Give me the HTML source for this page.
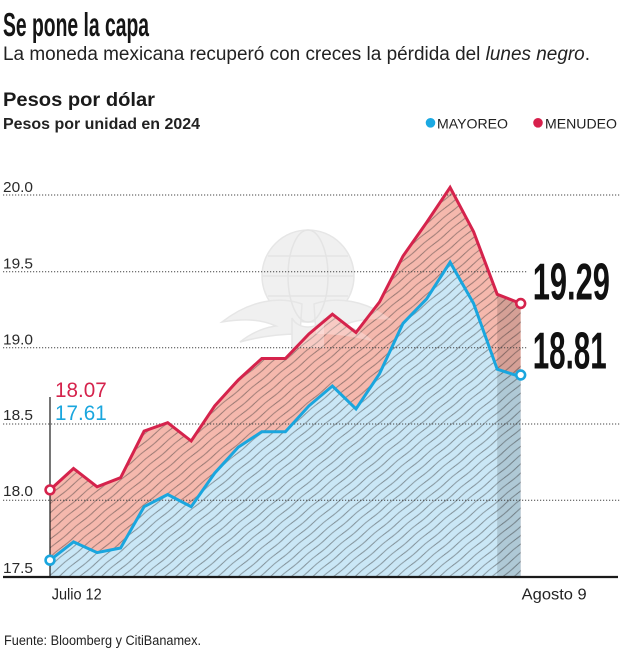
<!DOCTYPE html>
<html>
<head>
<meta charset="utf-8">
<style>
  html, body { margin: 0; padding: 0; background: #ffffff; }
  body { width: 622px; height: 666px; overflow: hidden; }
  svg { display: block; }
  text { font-family: "Liberation Sans", "DejaVu Sans", sans-serif; }
</style>
</head>
<body>
<svg width="622" height="666" viewBox="0 0 622 666" xmlns="http://www.w3.org/2000/svg">
  <defs>
    <pattern id="hatch" patternUnits="userSpaceOnUse" width="32" height="6.8" patternTransform="rotate(-40)">
      <path d="M0 3.4 Q8 2.8 16 3.4 T32 3.4" fill="none" stroke="#333" stroke-opacity="0.5" stroke-width="0.95"/>
    </pattern>
    <clipPath id="redClip">
      <polygon points="50,489.9 73.5,468.5 97.1,486.8 120.6,477.7 144.1,431.1 167.7,422.7 191.2,441.0 214.7,405.9 238.3,379.9 261.8,358.5 285.4,358.5 308.9,334.0 332.4,314.2 356.0,332.5 379.5,302.0 403.0,256.1 426.6,222.5 450.1,187.4 473.6,231.7 497.2,294.3 520.7,303.5 520.7,577 50,577"/>
    </clipPath>
    <g id="wm">
      <circle cx="308" cy="276" r="46"/>
      <path d="M302,304 C280,296 250,300 222,322 C248,318 262,320 276,326 C262,328 250,334 240,342 C262,336 282,334 300,334 Z"/>
      <path d="M314,304 C336,296 366,300 392,320 C368,318 354,320 342,326 C356,328 366,334 374,342 C354,336 334,334 316,334 Z"/>
      <path d="M292,318 C298,330 318,330 324,318 L324,348 L292,348 Z"/>
    </g>
  </defs>

  <!-- Header -->
  <text x="3" y="36" font-size="33" font-weight="bold" fill="#151515" textLength="146" lengthAdjust="spacingAndGlyphs">Se pone la capa</text>
  <text x="3" y="60" font-size="19" fill="#222" textLength="587" lengthAdjust="spacingAndGlyphs">La moneda mexicana recuperó con creces la pérdida del <tspan font-style="italic">lunes negro</tspan>.</text>
  <text x="3" y="106" font-size="19" font-weight="bold" fill="#1a1a1a" textLength="152" lengthAdjust="spacingAndGlyphs">Pesos por dólar</text>
  <text x="3" y="129" font-size="16" font-weight="bold" fill="#222" textLength="197" lengthAdjust="spacingAndGlyphs">Pesos por unidad en 2024</text>

  <!-- Legend -->
  <circle cx="430.5" cy="122.8" r="4.8" fill="#1ba9e2"/>
  <text x="437" y="128.5" font-size="14" fill="#222" textLength="71" lengthAdjust="spacingAndGlyphs">MAYOREO</text>
  <circle cx="538" cy="122.8" r="4.8" fill="#d71f4b"/>
  <text x="545" y="128.5" font-size="14" fill="#222" textLength="72" lengthAdjust="spacingAndGlyphs">MENUDEO</text>

  <!-- Watermark (behind) -->
  <g fill="#f0f0f0" stroke="#e6e6e6" stroke-width="1.5">
    <use href="#wm"/>
  </g>
  <g fill="none" stroke="#e4e4e4" stroke-width="1.5">
    <ellipse cx="308" cy="276" rx="20" ry="46"/>
    <line x1="262" y1="276" x2="354" y2="276"/>
    <line x1="268" y1="256" x2="348" y2="256"/>
    <line x1="268" y1="296" x2="348" y2="296"/>
  </g>

  <!-- Areas -->
  <polygon fill="#f5b8ad" points="50,489.9 73.5,468.5 97.1,486.8 120.6,477.7 144.1,431.1 167.7,422.7 191.2,441.0 214.7,405.9 238.3,379.9 261.8,358.5 285.4,358.5 308.9,334.0 332.4,314.2 356.0,332.5 379.5,302.0 403.0,256.1 426.6,222.5 450.1,187.4 473.6,231.7 497.2,294.3 520.7,303.5 520.7,577 50,577"/>
  <polygon fill="#cae7f6" points="50,560.2 73.5,541.9 97.1,552.6 120.6,548.0 144.1,506.7 167.7,494.5 191.2,506.7 214.7,473.1 238.3,447.1 261.8,431.8 285.4,431.8 308.9,405.9 332.4,386.0 356.0,408.9 379.5,373.8 403.0,323.4 426.6,298.9 450.1,262.2 473.6,303.5 497.2,369.2 520.7,376.8 520.7,577 50,577"/>

  <!-- Hatch -->
  <rect x="40" y="170" width="490" height="410" fill="url(#hatch)" clip-path="url(#redClip)"/>

  <!-- Dark band (last period) -->
  <rect x="497.2" y="280" width="23.5" height="297" fill="#000" fill-opacity="0.13" clip-path="url(#redClip)"/>

  <!-- Watermark lightening over areas -->
  <g fill="#ffffff" fill-opacity="0.28" clip-path="url(#redClip)">
    <use href="#wm"/>
  </g>

  <!-- Gridlines -->
  <g stroke="#444" stroke-width="1" stroke-dasharray="1.2 1.8">
    <line x1="3" y1="195" x2="620" y2="195"/>
    <line x1="3" y1="271.7" x2="528" y2="271.7"/>
    <line x1="3" y1="347.7" x2="528" y2="347.7"/>
    <line x1="3" y1="424" x2="620" y2="424"/>
    <line x1="3" y1="500.3" x2="620" y2="500.3"/>
  </g>

  <!-- Y labels -->
  <g font-size="15" fill="#2a2a2a">
    <text x="3" y="192" textLength="30" lengthAdjust="spacingAndGlyphs">20.0</text>
    <text x="3" y="268.5" textLength="30" lengthAdjust="spacingAndGlyphs">19.5</text>
    <text x="3" y="344.5" textLength="30" lengthAdjust="spacingAndGlyphs">19.0</text>
    <text x="3" y="420" textLength="30" lengthAdjust="spacingAndGlyphs">18.5</text>
    <text x="3" y="496" textLength="30" lengthAdjust="spacingAndGlyphs">18.0</text>
    <text x="3" y="573" textLength="30" lengthAdjust="spacingAndGlyphs">17.5</text>
  </g>

  <!-- Lines -->
  <polyline fill="none" stroke="#d5234c" stroke-width="3" stroke-linejoin="miter" points="50,489.9 73.5,468.5 97.1,486.8 120.6,477.7 144.1,431.1 167.7,422.7 191.2,441.0 214.7,405.9 238.3,379.9 261.8,358.5 285.4,358.5 308.9,334.0 332.4,314.2 356.0,332.5 379.5,302.0 403.0,256.1 426.6,222.5 450.1,187.4 473.6,231.7 497.2,294.3 520.7,303.5"/>
  <polyline fill="none" stroke="#1aa6de" stroke-width="3" stroke-linejoin="miter" points="50,560.2 73.5,541.9 97.1,552.6 120.6,548.0 144.1,506.7 167.7,494.5 191.2,506.7 214.7,473.1 238.3,447.1 261.8,431.8 285.4,431.8 308.9,405.9 332.4,386.0 356.0,408.9 379.5,373.8 403.0,323.4 426.6,298.9 450.1,262.2 473.6,303.5 497.2,369.2 520.7,376.8"/>

  <!-- Axes -->
  <line x1="50" y1="397" x2="50" y2="577" stroke="#1a1a1a" stroke-width="1.2"/>
  <line x1="3" y1="577" x2="618" y2="577" stroke="#1a1a1a" stroke-width="2.2"/>

  <!-- End markers -->
  <circle cx="50" cy="489.9" r="4.4" fill="#fff" stroke="#d5234c" stroke-width="2.6"/>
  <circle cx="50" cy="560.2" r="4.4" fill="#fff" stroke="#1aa6de" stroke-width="2.6"/>
  <circle cx="520.7" cy="303.5" r="4.4" fill="#fff" stroke="#d5234c" stroke-width="2.6"/>
  <circle cx="520.7" cy="375" r="4.4" fill="#fff" stroke="#1aa6de" stroke-width="2.6"/>

  <!-- Value labels -->
  <text x="55" y="397" font-size="21" fill="#d5234c" textLength="51.7" lengthAdjust="spacingAndGlyphs">18.07</text>
  <text x="55" y="420" font-size="21" fill="#1aa6de" textLength="51.7" lengthAdjust="spacingAndGlyphs">17.61</text>
  <text x="532.7" y="299.3" font-size="52" font-weight="bold" fill="#111" textLength="77.3" lengthAdjust="spacingAndGlyphs">19.29</text>
  <text x="532.7" y="368.3" font-size="52" font-weight="bold" fill="#111" textLength="74" lengthAdjust="spacingAndGlyphs">18.81</text>

  <!-- X labels -->
  <text x="51.7" y="599.5" font-size="16" fill="#222" textLength="50" lengthAdjust="spacingAndGlyphs">Julio 12</text>
  <text x="521.7" y="599.5" font-size="16" fill="#222" textLength="65" lengthAdjust="spacingAndGlyphs">Agosto 9</text>

  <!-- Source -->
  <text x="4" y="645" font-size="13.5" fill="#222" textLength="197" lengthAdjust="spacingAndGlyphs">Fuente: Bloomberg y CitiBanamex.</text>
</svg>
</body>
</html>
